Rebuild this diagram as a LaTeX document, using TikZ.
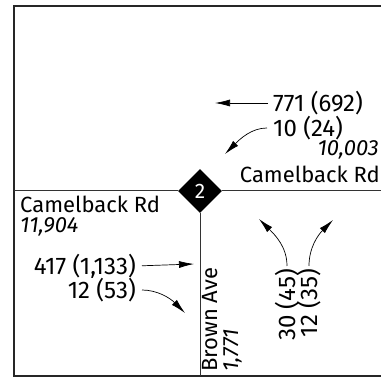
\documentclass[tikz,border=0pt]{standalone}
\usepackage{fontspec}
\setmainfont{Fira Sans}
\usetikzlibrary{shapes.geometric,arrows.meta}
\begin{document}
\begin{tikzpicture}[x=1pt,y=1pt,
		every node/.style={inner sep=0pt,font=\fontsize{22}{26}\selectfont},
		cifra/.style={font=\fontsize{22}{26}\selectfont\itshape},
		giro/.style={font=\fontsize{24}{28}\selectfont},
		flecha/.style={-{Latex[length=15pt,width=7pt]},line width=0.7pt},
		calle/.style={line width=1pt,draw=black!80},
		marco/.style={line width=1.2pt,draw=black!85}]
	\useasboundingbox (0,0) rectangle (381,379);
	% Marco y calles
	\draw[marco] (381,373) -- (14,373) -- (14,3) -- (381,3);
	\node[diamond,fill=black,text=white,minimum width=44pt,minimum height=44pt,
		font=\fontsize{21}{24}\selectfont] (d2) at (200,188) {2};
	\coordinate (oeste) at (14,188);
	\coordinate (este) at (381,188);
	\coordinate (sur) at (200,3);
	\draw[calle] (oeste) -- (d2.west);
	\draw[calle] (d2.east) -- (este);
	\draw[calle] (d2.south) -- (sur);
	% Nombres de calles y volumenes
	\node[anchor=base east] (camE) at (380,196) {Camelback Rd};
	\node[cifra,anchor=base east] (volE) at (379,223) {10,003};
	\node[anchor=base west] (camO) at (20,166) {Camelback Rd};
	\node[cifra,anchor=base west] (volO) at (20,146) {11,904};
	\node[anchor=base west,rotate=90] (brown) at (217,7) {Brown Ave};
	\node[cifra,anchor=base west,rotate=90] (volS) at (238,7) {1,771};
	% Giros
	\node[giro,anchor=west] (n771) at (273,276) {771 (692)};
	\node[giro,anchor=west] (n10) at (273,251) {10 (24)};
	\node[giro,anchor=east] (n417) at (136,113) {417 (1,133)};
	\node[giro,anchor=east] (n12a) at (136,89) {12 (53)};
	\node[giro,rotate=90,anchor=east] (n30) at (287,110) {30 (45)};
	\node[giro,rotate=90,anchor=east] (n12b) at (309,110) {12 (35)};
	\coordinate (f771) at (215,276);
	\coordinate (f10) at (225,225);
	\coordinate (f417) at (194,115);
	\coordinate (f12a) at (185,66);
	\coordinate (f30) at (259,160);
	\coordinate (f12b) at (333,159);
	\draw[flecha,shorten <=5pt] (n771.west) -- (f771);
	\draw[flecha,shorten <=6pt] (n10.west) to[out=180,in=45] (f10);
	\draw[flecha,shorten <=6pt] (n417.east) -- (f417);
	\draw[flecha,shorten <=6pt] (n12a.east) to[out=0,in=135] (f12a);
	\draw[flecha,shorten <=3pt] (n30.east) to[out=90,in=-45] (f30);
	\draw[flecha,shorten <=3pt] (n12b.east) to[out=90,in=-135] (f12b);
\end{tikzpicture}
\end{document}
